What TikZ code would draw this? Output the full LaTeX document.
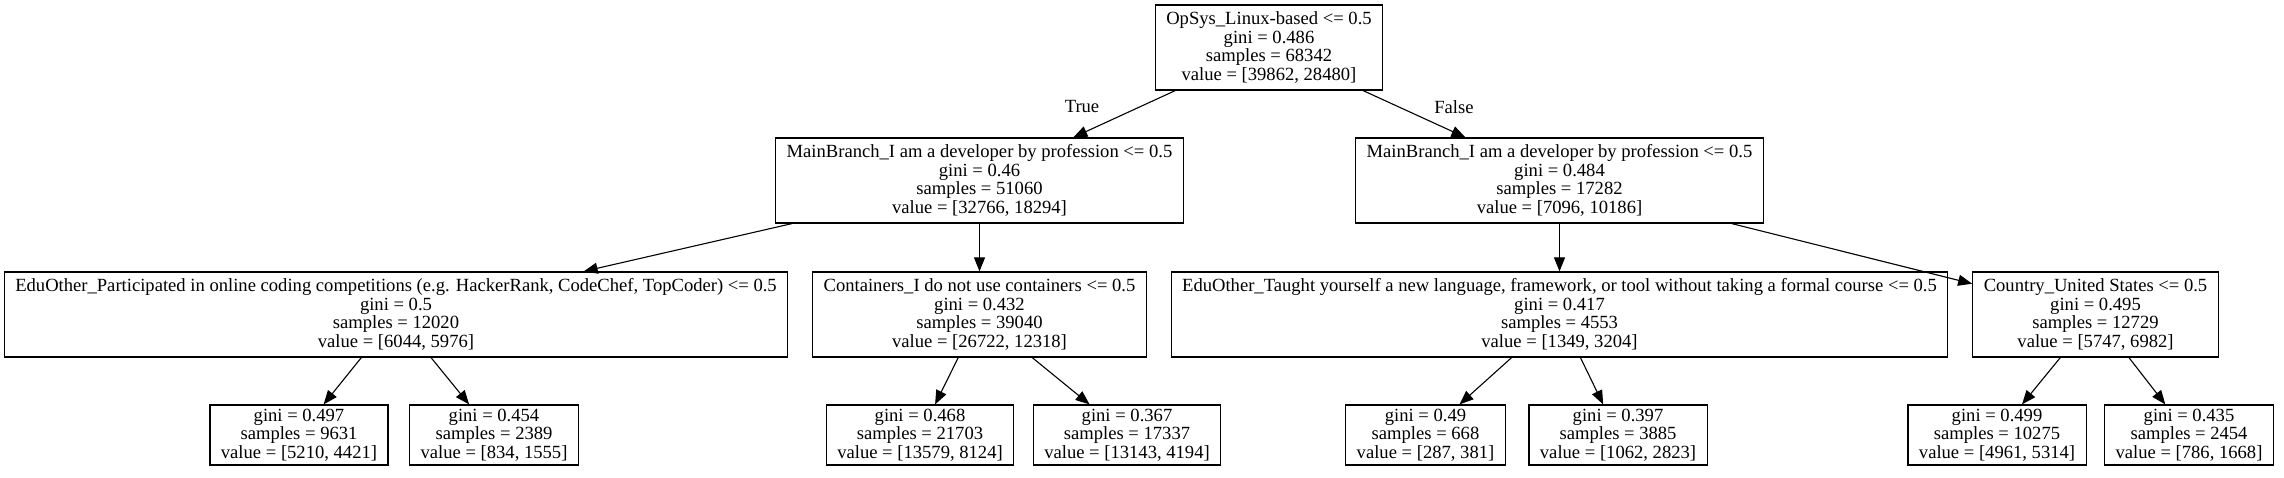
\documentclass[tikz,border=0pt]{standalone}
\usepackage{fontspec}
\setmainfont{Liberation Serif}
\usetikzlibrary{arrows.meta}

\begin{document}
\begin{tikzpicture}[x=0.5pt,y=-0.5pt,
	split/.style={draw, line width=0.6pt, align=center, inner xsep=5.5pt, inner ysep=0pt, minimum height=42.5pt, font=\fontsize{9.3}{9.35}\selectfont},
	leaf/.style={split, minimum height=30pt},
	edge/.style={-{Triangle[length=7pt,width=5.5pt]}, line width=0.55pt},
	lab/.style={font=\fontsize{9.3}{9.35}\selectfont}]
\useasboundingbox (0,0) rectangle (2284,477);
\node[split] (root) at (1269,47.5) {OpSys\_Linux-based <= 0.5\\gini = 0.486\\samples = 68342\\value = [39862, 28480]};
\node[split] (mbt) at (979.5,180.5) {MainBranch\_I am a developer by profession <= 0.5\\gini = 0.46\\samples = 51060\\value = [32766, 18294]};
\node[split] (mbf) at (1559.5,180.5) {MainBranch\_I am a developer by profession <= 0.5\\gini = 0.484\\samples = 17282\\value = [7096, 10186]};
\node[split] (edu) at (396,314.5) {EduOther\_Participated in online coding competitions (e.g. HackerRank, CodeChef, TopCoder) <= 0.5\\gini = 0.5\\samples = 12020\\value = [6044, 5976]};
\node[split] (cont) at (979.5,314.5) {Containers\_I do not use containers <= 0.5\\gini = 0.432\\samples = 39040\\value = [26722, 12318]};
\node[split] (taught) at (1559.5,314.5) {EduOther\_Taught yourself a new language, framework, or tool without taking a formal course <= 0.5\\gini = 0.417\\samples = 4553\\value = [1349, 3204]};
\node[split] (us) at (2095.5,314.5) {Country\_United States <= 0.5\\gini = 0.495\\samples = 12729\\value = [5747, 6982]};
\node[leaf] (ga) at (299,435) {gini = 0.497\\samples = 9631\\value = [5210, 4421]};
\node[leaf] (gb) at (494,435) {gini = 0.454\\samples = 2389\\value = [834, 1555]};
\node[leaf] (gc) at (920,435) {gini = 0.468\\samples = 21703\\value = [13579, 8124]};
\node[leaf] (gd) at (1127,435) {gini = 0.367\\samples = 17337\\value = [13143, 4194]};
\node[leaf] (ge) at (1425.5,435) {gini = 0.49\\samples = 668\\value = [287, 381]};
\node[leaf] (gf) at (1618,435) {gini = 0.397\\samples = 3885\\value = [1062, 2823]};
\node[leaf] (gg) at (1997,435) {gini = 0.499\\samples = 10275\\value = [4961, 5314]};
\node[leaf] (gh) at (2189,435) {gini = 0.435\\samples = 2454\\value = [786, 1668]};
\draw[edge] (root) -- (mbt);
\draw[edge] (root) -- (mbf);
\node[lab] (t) at (1082,106) {True};
\node[lab] (f) at (1454,107) {False};
\draw[edge] (mbt) -- (edu);
\draw[edge] (mbt) -- (cont);
\draw[edge] (mbf) -- (taught);
\draw[edge] (mbf) -- (us);
\draw[edge] (edu) -- (ga);
\draw[edge] (edu) -- (gb);
\draw[edge] (cont) -- (gc);
\draw[edge] (cont) -- (gd);
\draw[edge] (taught) -- (ge);
\draw[edge] (taught) -- (gf);
\draw[edge] (us) -- (gg);
\draw[edge] (us) -- (gh);
\end{tikzpicture}
\end{document}
